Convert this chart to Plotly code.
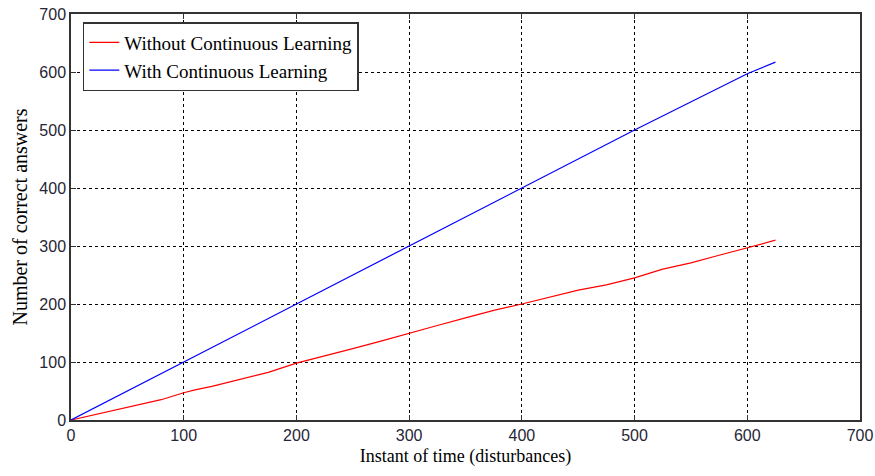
import plotly.graph_objects as go

x_red = [0, 25, 50, 75, 80, 100, 110, 125, 150, 175, 200, 225, 250, 275, 300, 325, 350, 375, 400, 425, 450, 475, 500, 525, 550, 575, 600, 625]
y_red = [0, 11, 22, 33, 35, 47, 52, 58, 70, 82, 98, 110, 123, 136, 150, 163, 176, 189, 200, 212, 224, 233, 245, 260, 271, 284, 297, 310]
x_blue = [0, 100, 200, 300, 400, 500, 600, 625]
y_blue = [0, 100, 200, 300, 400, 500, 597, 617]
ticks = [0, 100, 200, 300, 400, 500, 600, 700]

fig = go.Figure()
fig.add_trace(go.Scatter(x=x_red, y=y_red, mode="lines", name="Without Continuous Learning",
                         line=dict(color="#ff0000", width=1.2)))
fig.add_trace(go.Scatter(x=x_blue, y=y_blue, mode="lines", name="With Continuous Learning",
                         line=dict(color="#0000ff", width=1.2)))

axis_common = dict(range=[0, 700], tickvals=ticks, showgrid=True, gridcolor="#000000",
                   griddash="3px,3px", gridwidth=1, showline=True, linecolor="#333333",
                   linewidth=1.5, mirror="ticks", ticks="inside", ticklen=5, tickcolor="#333333",
                   zeroline=False, automargin=False,
                   tickfont=dict(family="Liberation Sans", size=16, color="#262637"))

fig.update_xaxes(**axis_common, title=dict(text="Instant of time (disturbances)", standoff=6,
                 font=dict(family="Liberation Serif", size=18, color="#000000")))
fig.update_yaxes(**axis_common, title=dict(text="Number of correct answers", standoff=6,
                 font=dict(family="Liberation Serif", size=20, color="#000000")))

fig.update_layout(
    width=875, height=476,
    margin=dict(l=71, r=15, t=14, b=56),
    plot_bgcolor="white", paper_bgcolor="white",
    legend=dict(x=0.015, y=0.98, xanchor="left", yanchor="top", bgcolor="white",
                bordercolor="#333333", borderwidth=1.5,
                font=dict(family="Liberation Serif", size=19, color="#000000"),
                tracegroupgap=0, entrywidth=275, entrywidthmode="pixels"),
    showlegend=True,
)

fig.write_html("out.html")
